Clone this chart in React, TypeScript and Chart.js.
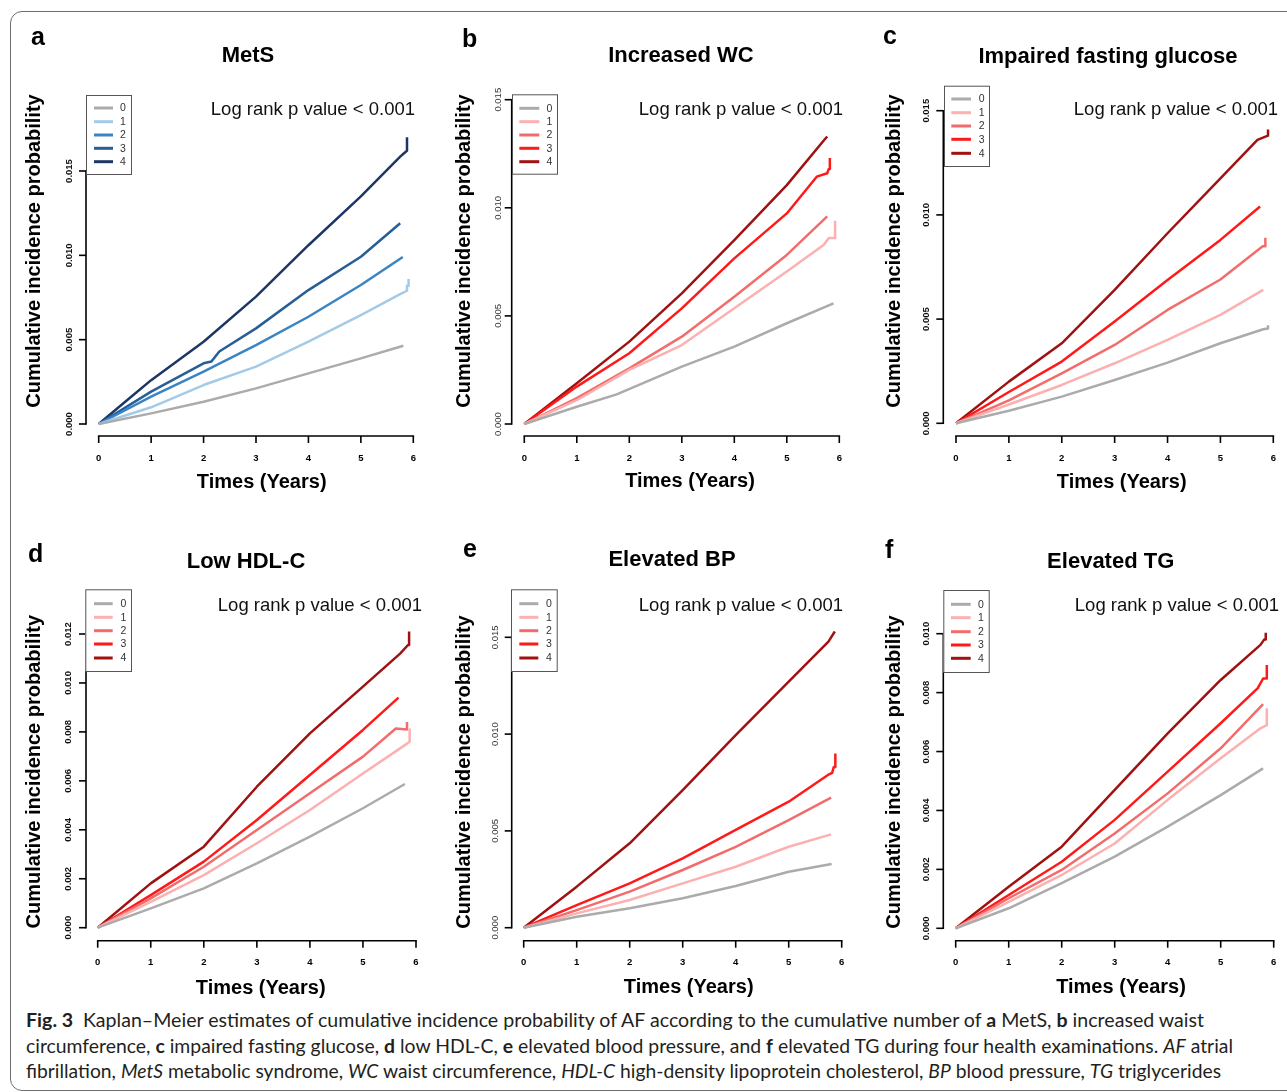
import React, { useEffect, useLayoutEffect, useRef } from 'react';
import { Chart, registerables } from 'chart.js';

Chart.register(...registerables);

type Pt = [number, number];

// ---------- tick labels ----------
const xTicks = [0, 1, 2, 3, 4, 5, 6];
const yTicks015 = [0, 0.005, 0.01, 0.015];
const yTicks012 = [0, 0.002, 0.004, 0.006, 0.008, 0.01, 0.012];
const yTicks010 = [0, 0.002, 0.004, 0.006, 0.008, 0.01];
const groupLabels = ['0', '1', '2', '3', '4'];

// ---------- a: MetS ----------
const metS0: Pt[] = [[0, 0], [1, 0.00063], [2, 0.00132], [3, 0.00211], [4, 0.003], [5, 0.00389], [5.81, 0.00464]];
const metS1: Pt[] = [[0, 0], [1, 0.00099], [2, 0.00231], [3, 0.0034], [4, 0.00488], [5, 0.00646], [5.75, 0.0077], [5.88, 0.0079], [5.88, 0.0082], [5.91, 0.0082], [5.91, 0.0086]];
const metS2: Pt[] = [[0, 0], [1, 0.00162], [2, 0.0031], [3, 0.00468], [4, 0.00636], [5, 0.00824], [5.8, 0.0099]];
const metS3: Pt[] = [[0, 0], [1, 0.00192], [2, 0.0036], [2.15, 0.0037], [2.3, 0.0043], [3, 0.00567], [4, 0.00794], [5, 0.00992], [5.75, 0.0119]];
const metS4: Pt[] = [[0, 0], [0.5, 0.0013], [1, 0.0026], [2, 0.00488], [3, 0.00755], [4, 0.0106], [5, 0.0135], [5.75, 0.01585], [5.84, 0.0161], [5.88, 0.0162], [5.88, 0.017]];

// ---------- b: Increased WC ----------
const wc0: Pt[] = [[0, 0], [1, 0.0008], [1.76, 0.00137], [3, 0.00265], [4, 0.00358], [5, 0.00466], [5.89, 0.00558]];
const wc1: Pt[] = [[0, 0], [1, 0.0011], [2, 0.0025], [3, 0.00365], [4, 0.00535], [5, 0.00705], [5.7, 0.00828], [5.8, 0.0086], [5.92, 0.0086], [5.92, 0.0094]];
const wc2: Pt[] = [[0, 0], [1, 0.0012], [2, 0.00257], [3, 0.00404], [4, 0.00589], [5, 0.00782], [5.77, 0.0096]];
const wc3: Pt[] = [[0, 0], [1, 0.00173], [2, 0.00327], [3, 0.00535], [4, 0.00766], [5, 0.00974], [5.57, 0.01144], [5.77, 0.0116], [5.8, 0.0118], [5.82, 0.0118], [5.82, 0.0123]];
const wc4: Pt[] = [[0, 0], [1, 0.00188], [2, 0.00381], [3, 0.00604], [4, 0.00851], [5, 0.01105], [5.7, 0.0131], [5.77, 0.0133]];

// ---------- c: Impaired fasting glucose ----------
const ifg0: Pt[] = [[0, 0], [1, 0.0006], [2, 0.00128], [3, 0.00208], [4, 0.00291], [5, 0.00384], [5.81, 0.00451], [5.9, 0.00455], [5.9, 0.0047]];
const ifg1: Pt[] = [[0, 0], [1, 0.0009], [2, 0.00184], [3, 0.00288], [4, 0.004], [5, 0.0052], [5.81, 0.0064]];
const ifg2: Pt[] = [[0, 0], [1, 0.0011], [2, 0.0024], [3, 0.00376], [4, 0.00544], [5, 0.0069], [5.8, 0.0085], [5.85, 0.0085], [5.85, 0.0089]];
const ifg3: Pt[] = [[0, 0], [1, 0.0015], [2, 0.00296], [3, 0.00488], [4, 0.00688], [5, 0.0088], [5.75, 0.0104]];
const ifg4: Pt[] = [[0, 0], [1, 0.002], [2, 0.00384], [3, 0.0064], [4, 0.00912], [5, 0.01175], [5.7, 0.0136], [5.9, 0.0138], [5.9, 0.0141]];

// ---------- d: Low HDL-C ----------
const hdl0: Pt[] = [[0, 0], [1, 0.00079], [2, 0.00161], [3, 0.00263], [4, 0.00372], [5, 0.00488], [5.79, 0.00587]];
const hdl1: Pt[] = [[0, 0], [1, 0.00106], [2, 0.00215], [3, 0.00345], [4, 0.00481], [5, 0.0063], [5.79, 0.00746], [5.88, 0.0076], [5.88, 0.00814]];
const hdl2: Pt[] = [[0, 0], [1, 0.0012], [2, 0.00249], [3, 0.00399], [4, 0.00549], [5, 0.00699], [5.62, 0.00814], [5.83, 0.0081], [5.83, 0.0084]];
const hdl3: Pt[] = [[0, 0], [1, 0.00133], [2, 0.0027], [3, 0.0044], [4, 0.00624], [5, 0.00808], [5.67, 0.0094]];
const hdl4: Pt[] = [[0, 0], [1, 0.00181], [2, 0.00331], [3, 0.00576], [4, 0.00794], [5, 0.00985], [5.7, 0.0112], [5.85, 0.01155], [5.87, 0.01155], [5.87, 0.0121]];

// ---------- e: Elevated BP ----------
const bp0: Pt[] = [[0, 0], [1, 0.00057], [2, 0.001], [3, 0.00152], [4, 0.00215], [5, 0.00289], [5.81, 0.00329]];
const bp1: Pt[] = [[0, 0], [1, 0.00074], [2, 0.00143], [3, 0.00229], [4, 0.00315], [5, 0.00418], [5.8, 0.00482]];
const bp2: Pt[] = [[0, 0], [1, 0.00091], [2, 0.00186], [3, 0.00298], [4, 0.00418], [5, 0.00556], [5.8, 0.00672]];
const bp3: Pt[] = [[0, 0], [1, 0.00117], [2, 0.00229], [3, 0.00358], [4, 0.00505], [5, 0.00651], [5.74, 0.00789], [5.82, 0.008], [5.85, 0.0083], [5.88, 0.0083], [5.88, 0.009]];
const bp4: Pt[] = [[0, 0], [1, 0.00212], [2, 0.00436], [3, 0.00711], [4, 0.00995], [5, 0.01271], [5.75, 0.01478], [5.87, 0.0153]];

// ---------- f: Elevated TG ----------
const tg0: Pt[] = [[0, 0], [1, 0.00068], [2, 0.00153], [3, 0.00243], [4, 0.00345], [5, 0.00452], [5.8, 0.00543]];
const tg1: Pt[] = [[0, 0], [1, 0.0009], [2, 0.00181], [3, 0.00288], [4, 0.00436], [5, 0.00577], [5.75, 0.00679], [5.87, 0.0069], [5.87, 0.00747]];
const tg2: Pt[] = [[0, 0], [1, 0.00102], [2, 0.00198], [3, 0.00322], [4, 0.00458], [5, 0.00611], [5.8, 0.00761]];
const tg3: Pt[] = [[0, 0], [1, 0.00113], [2, 0.00226], [3, 0.00368], [4, 0.00532], [5, 0.00696], [5.7, 0.00815], [5.8, 0.00848], [5.87, 0.00848], [5.87, 0.00894]];
const tg4: Pt[] = [[0, 0], [1, 0.00141], [2, 0.00277], [3, 0.0047], [4, 0.00662], [5, 0.00843], [5.75, 0.00962], [5.82, 0.0098], [5.85, 0.0098], [5.85, 0.01003]];

// ---------- styles ----------
const BLUES = ['#ababab', '#a3cbe8', '#3a84c4', '#255f96', '#1d3665'];
const REDS = ['#ababab', '#fcb0b0', '#f26c6c', '#ff1a1a', '#a01212'];
const FONT = '"Liberation Sans", Arial, Helvetica, sans-serif';

type Panel = {
  letter: string; title: string; series: Pt[][]; colors: string[]; yTicks: number[];
  cell: { x: number; y: number; w: number; h: number };
  x0: number; x6: number; yAxisX: number; y0: number; topTickPix: number; axisY: number;
  letterPos: [number, number]; titlePos: [number, number]; logPos: [number, number];
  yTitlePos: [number, number]; xTitlePos: [number, number]; yLabelX: number; xLabelY: number;
  yLabelBold: boolean;
  legend: { x: number; y: number; w: number; h: number; l1: number; l2: number; lx: number; rows: number[] };
};

const panels: Panel[] = [
  {
    letter: 'a', title: 'MetS', series: [metS0, metS1, metS2, metS3, metS4], colors: BLUES, yTicks: yTicks015,
    cell: { x: 0, y: 0, w: 430, h: 495 },
    x0: 98.7, x6: 413.3, yAxisX: 86, y0: 424, topTickPix: 171, axisY: 436,
    letterPos: [31, 45], titlePos: [248, 61.5], logPos: [415, 114.5],
    yTitlePos: [40, 251], xTitlePos: [261.7, 488], yLabelX: 69.7, xLabelY: 460.5, yLabelBold: true,
    legend: { x: 86, y: 95, w: 45, h: 79, l1: 94, l2: 113, lx: 123, rows: [108, 121.7, 135, 148.3, 161.7] },
  },
  {
    letter: 'b', title: 'Increased WC', series: [wc0, wc1, wc2, wc3, wc4], colors: REDS, yTicks: yTicks015,
    cell: { x: 430, y: 0, w: 430, h: 495 },
    x0: 524.3, x6: 839.3, yAxisX: 511.7, y0: 424, topTickPix: 99.7, axisY: 436,
    letterPos: [462, 46.5], titlePos: [681, 61.5], logPos: [843, 114.5],
    yTitlePos: [470, 251], xTitlePos: [690, 487], yLabelX: 498.3, xLabelY: 460.5, yLabelBold: false,
    legend: { x: 512, y: 94.3, w: 45, h: 79.4, l1: 519.3, l2: 539.3, lx: 549.3, rows: [108.3, 121.7, 135, 148.3, 161.7] },
  },
  {
    letter: 'c', title: 'Impaired fasting glucose', series: [ifg0, ifg1, ifg2, ifg3, ifg4], colors: REDS, yTicks: yTicks015,
    cell: { x: 860, y: 0, w: 427, h: 495 },
    x0: 956, x6: 1273.3, yAxisX: 943.3, y0: 423.3, topTickPix: 110.7, axisY: 436,
    letterPos: [883, 43.5], titlePos: [1108, 63], logPos: [1278, 114.5],
    yTitlePos: [899.5, 251], xTitlePos: [1121.7, 488], yLabelX: 926.7, xLabelY: 460.5, yLabelBold: true,
    legend: { x: 944, y: 85.7, w: 45, h: 80.3, l1: 951.3, l2: 971, lx: 981.7, rows: [99, 112.7, 126, 139.3, 153.3] },
  },
  {
    letter: 'd', title: 'Low HDL-C', series: [hdl0, hdl1, hdl2, hdl3, hdl4], colors: REDS, yTicks: yTicks012,
    cell: { x: 0, y: 495, w: 430, h: 512 },
    x0: 97.7, x6: 416, yAxisX: 86, y0: 927.7, topTickPix: 634, axisY: 940.7,
    letterPos: [28, 562], titlePos: [246, 567.5], logPos: [422, 611],
    yTitlePos: [40, 771.7], xTitlePos: [260.7, 994], yLabelX: 68.3, xLabelY: 965, yLabelBold: true,
    legend: { x: 85.3, y: 589.3, w: 45.7, h: 81.7, l1: 94, l2: 112.7, lx: 123.3, rows: [603.7, 617.3, 630.7, 644, 658] },
  },
  {
    letter: 'e', title: 'Elevated BP', series: [bp0, bp1, bp2, bp3, bp4], colors: REDS, yTicks: yTicks015,
    cell: { x: 430, y: 495, w: 430, h: 512 },
    x0: 523.7, x6: 841.7, yAxisX: 511.7, y0: 927.7, topTickPix: 637.3, axisY: 940.7,
    letterPos: [463, 557], titlePos: [672, 565.5], logPos: [843, 611],
    yTitlePos: [470, 772], xTitlePos: [688.7, 992.7], yLabelX: 495, xLabelY: 965, yLabelBold: false,
    legend: { x: 511, y: 589.3, w: 45.7, h: 81.7, l1: 519.3, l2: 538.3, lx: 549, rows: [603.7, 617.3, 630.7, 644, 658] },
  },
  {
    letter: 'f', title: 'Elevated TG', series: [tg0, tg1, tg2, tg3, tg4], colors: REDS, yTicks: yTicks010,
    cell: { x: 860, y: 495, w: 427, h: 512 },
    x0: 955.7, x6: 1273.7, yAxisX: 943.3, y0: 928.3, topTickPix: 633.7, axisY: 940.7,
    letterPos: [885, 558], titlePos: [1110.7, 567.5], logPos: [1279, 611],
    yTitlePos: [899.5, 772], xTitlePos: [1121, 993], yLabelX: 926.7, xLabelY: 965, yLabelBold: true,
    legend: { x: 943.3, y: 590, w: 45.4, h: 82, l1: 951, l2: 970.7, lx: 981, rows: [604.3, 617.7, 631.7, 645, 658.3] },
  },
];

function makeDecor(p: Panel) {
  return {
    id: 'decor_' + p.letter,
    afterDraw(chart: any) {
      const ctx: CanvasRenderingContext2D = chart.ctx;
      const xs = chart.scales.x;
      const ys = chart.scales.y;
      const ox = p.cell.x;
      const oy = p.cell.y;
      const area = chart.chartArea;
      ctx.save();
      ctx.strokeStyle = '#000';
      ctx.fillStyle = '#000';
      ctx.lineWidth = 1.6;
      ctx.lineCap = 'square';

      // y axis
      const ax = area.left;
      const yTop = ys.getPixelForValue(p.yTicks[p.yTicks.length - 1]);
      const yBot = ys.getPixelForValue(p.yTicks[0]);
      ctx.beginPath();
      ctx.moveTo(ax, yBot);
      ctx.lineTo(ax, yTop);
      ctx.stroke();
      ctx.lineCap = 'butt';
      p.yTicks.forEach((t) => {
        const yy = ys.getPixelForValue(t);
        ctx.beginPath();
        ctx.moveTo(ax - 7, yy);
        ctx.lineTo(ax, yy);
        ctx.stroke();
        ctx.save();
        ctx.translate(p.yLabelX - ox, yy);
        ctx.rotate(-Math.PI / 2);
        ctx.font = (p.yLabelBold ? 'bold ' : '') + '9.5px ' + FONT;
        ctx.fillStyle = p.yLabelBold ? '#111' : '#333';
        ctx.textAlign = 'center';
        ctx.textBaseline = 'middle';
        ctx.fillText(t.toFixed(3), 0, 0);
        ctx.restore();
      });

      // x axis
      const ay = area.bottom;
      ctx.lineCap = 'square';
      ctx.beginPath();
      ctx.moveTo(xs.getPixelForValue(xTicks[0]), ay);
      ctx.lineTo(xs.getPixelForValue(xTicks[xTicks.length - 1]), ay);
      ctx.stroke();
      ctx.lineCap = 'butt';
      ctx.font = 'bold 9.5px ' + FONT;
      ctx.textAlign = 'center';
      ctx.textBaseline = 'alphabetic';
      xTicks.forEach((t) => {
        const xx = xs.getPixelForValue(t);
        ctx.beginPath();
        ctx.moveTo(xx, ay);
        ctx.lineTo(xx, ay + 7);
        ctx.stroke();
        ctx.fillText(String(t), xx, p.xLabelY - oy);
      });

      // panel letter
      ctx.textAlign = 'left';
      ctx.font = 'bold 25px ' + FONT;
      ctx.fillText(p.letter, p.letterPos[0] - ox, p.letterPos[1] - oy);

      // title
      ctx.textAlign = 'center';
      ctx.font = 'bold 22px ' + FONT;
      ctx.fillText(p.title, p.titlePos[0] - ox, p.titlePos[1] - oy);

      // log rank text
      ctx.textAlign = 'right';
      ctx.font = '18.5px ' + FONT;
      ctx.fillStyle = '#111';
      ctx.fillText('Log rank p value < 0.001', p.logPos[0] - ox, p.logPos[1] - oy);

      // axis titles
      ctx.fillStyle = '#000';
      ctx.font = 'bold 20px ' + FONT;
      ctx.textAlign = 'center';
      ctx.fillText('Times (Years)', p.xTitlePos[0] - ox, p.xTitlePos[1] - oy);
      ctx.save();
      ctx.translate(p.yTitlePos[0] - ox, p.yTitlePos[1] - oy);
      ctx.rotate(-Math.PI / 2);
      ctx.fillText('Cumulative incidence probability', 0, 0);
      ctx.restore();

      // legend
      const L = p.legend;
      ctx.fillStyle = '#fff';
      ctx.fillRect(L.x - ox, L.y - oy, L.w, L.h);
      ctx.strokeStyle = '#555';
      ctx.lineWidth = 1;
      ctx.strokeRect(L.x - ox + 0.5, L.y - oy + 0.5, L.w, L.h);
      ctx.font = '10.5px ' + FONT;
      ctx.textAlign = 'center';
      ctx.textBaseline = 'middle';
      groupLabels.forEach((lab, i) => {
        const ry = L.rows[i] - oy;
        ctx.strokeStyle = p.colors[i];
        ctx.lineWidth = 3;
        ctx.beginPath();
        ctx.moveTo(L.l1 - ox, ry);
        ctx.lineTo(L.l2 - ox, ry);
        ctx.stroke();
        ctx.fillStyle = '#333';
        ctx.fillText(lab, L.lx - ox, ry + 0.5);
      });
      ctx.restore();
    },
  };
}

function PanelChart({ p }: { p: Panel }) {
  const ref = useRef<HTMLCanvasElement>(null);
  useEffect(() => {
    if (!ref.current) return;
    const perYr = (p.x6 - p.x0) / 6;
    const chartRight = p.x6 + 0.24 * perYr;
    const k = (p.y0 - p.topTickPix) / p.yTicks[p.yTicks.length - 1];
    const chartTop = p.y0 - 26 * (p.axisY - p.y0);
    const xmin = -(p.x0 - p.yAxisX) / perYr;
    const xmax = 6 + (chartRight - p.x6) / perYr;
    const ymin = -(p.axisY - p.y0) / k;
    const ymax = (p.y0 - chartTop) / k;
    const chart = new Chart(ref.current, {
      type: 'line',
      data: {
        datasets: p.series.map((s, i) => ({
          label: groupLabels[i],
          data: s.map(([t, v]) => ({ x: t, y: v })),
          borderColor: p.colors[i],
          backgroundColor: p.colors[i],
          borderWidth: 2.5,
          pointRadius: 0,
          tension: 0,
          fill: false,
          borderJoinStyle: 'round' as const,
        })),
      },
      options: {
        responsive: false,
        animation: false,
        devicePixelRatio: 1,
        events: [],
        layout: {
          padding: {
            left: p.yAxisX - p.cell.x,
            right: p.cell.w - (chartRight - p.cell.x),
            top: chartTop - p.cell.y,
            bottom: p.cell.h - (p.axisY - p.cell.y),
          },
        },
        scales: {
          x: { type: 'linear', min: xmin, max: xmax, display: false },
          y: { type: 'linear', min: ymin, max: ymax, display: false },
        },
        plugins: { legend: { display: false }, tooltip: { enabled: false }, title: { display: false } },
      },
      plugins: [makeDecor(p)],
    });
    return () => chart.destroy();
  }, [p]);
  return (
    <canvas
      ref={ref}
      width={p.cell.w}
      height={p.cell.h}
      style={{ position: 'absolute', left: p.cell.x, top: p.cell.y, width: p.cell.w, height: p.cell.h }}
    />
  );
}

const captionTargets = [1204, 1233, 1221];

export default function App() {
  const lineRefs = useRef<(HTMLDivElement | null)[]>([]);
  useLayoutEffect(() => {
    lineRefs.current.forEach((el, i) => {
      if (!el) return;
      el.style.transform = 'none';
      const w = el.getBoundingClientRect().width;
      const target = captionTargets[i] - 26;
      if (w > 0) el.style.transform = `scaleX(${target / w})`;
    });
  }, []);
  const capStyle: React.CSSProperties = {
    position: 'absolute',
    left: 26,
    whiteSpace: 'nowrap',
    fontFamily: 'Lato, "Noto Sans", sans-serif',
    fontSize: 18.5,
    lineHeight: '25.5px',
    color: '#231f20',
    transformOrigin: 'left center',
  };
  return (
    <div style={{ position: 'absolute', left: 0, top: 0, width: 1287, height: 1092, overflow: 'hidden', background: '#fff' }}>
      <div
        style={{
          position: 'absolute', left: 10, top: 11, width: 1300, height: 1080,
          border: '1.3px solid #6e6e6e', borderRadius: 12, boxSizing: 'border-box',
        }}
      />
      {panels.map((p) => (
        <PanelChart key={p.letter} p={p} />
      ))}
      <div ref={(el) => { lineRefs.current[0] = el; }} style={{ ...capStyle, top: 1008 }}>
        <b>Fig. 3</b>{'\u2002'}Kaplan–Meier estimates of cumulative incidence probability of AF according to the cumulative number of <b>a</b> MetS, <b>b</b> increased waist
      </div>
      <div ref={(el) => { lineRefs.current[1] = el; }} style={{ ...capStyle, top: 1033.5 }}>
        circumference, <b>c</b> impaired fasting glucose, <b>d</b> low HDL-C, <b>e</b> elevated blood pressure, and <b>f</b> elevated TG during four health examinations. <i>AF</i> atrial
      </div>
      <div ref={(el) => { lineRefs.current[2] = el; }} style={{ ...capStyle, top: 1059 }}>
        fibrillation, <i>MetS</i> metabolic syndrome, <i>WC</i> waist circumference, <i>HDL-C</i> high-density lipoprotein cholesterol, <i>BP</i> blood pressure, <i>TG</i> triglycerides
      </div>
    </div>
  );
}
